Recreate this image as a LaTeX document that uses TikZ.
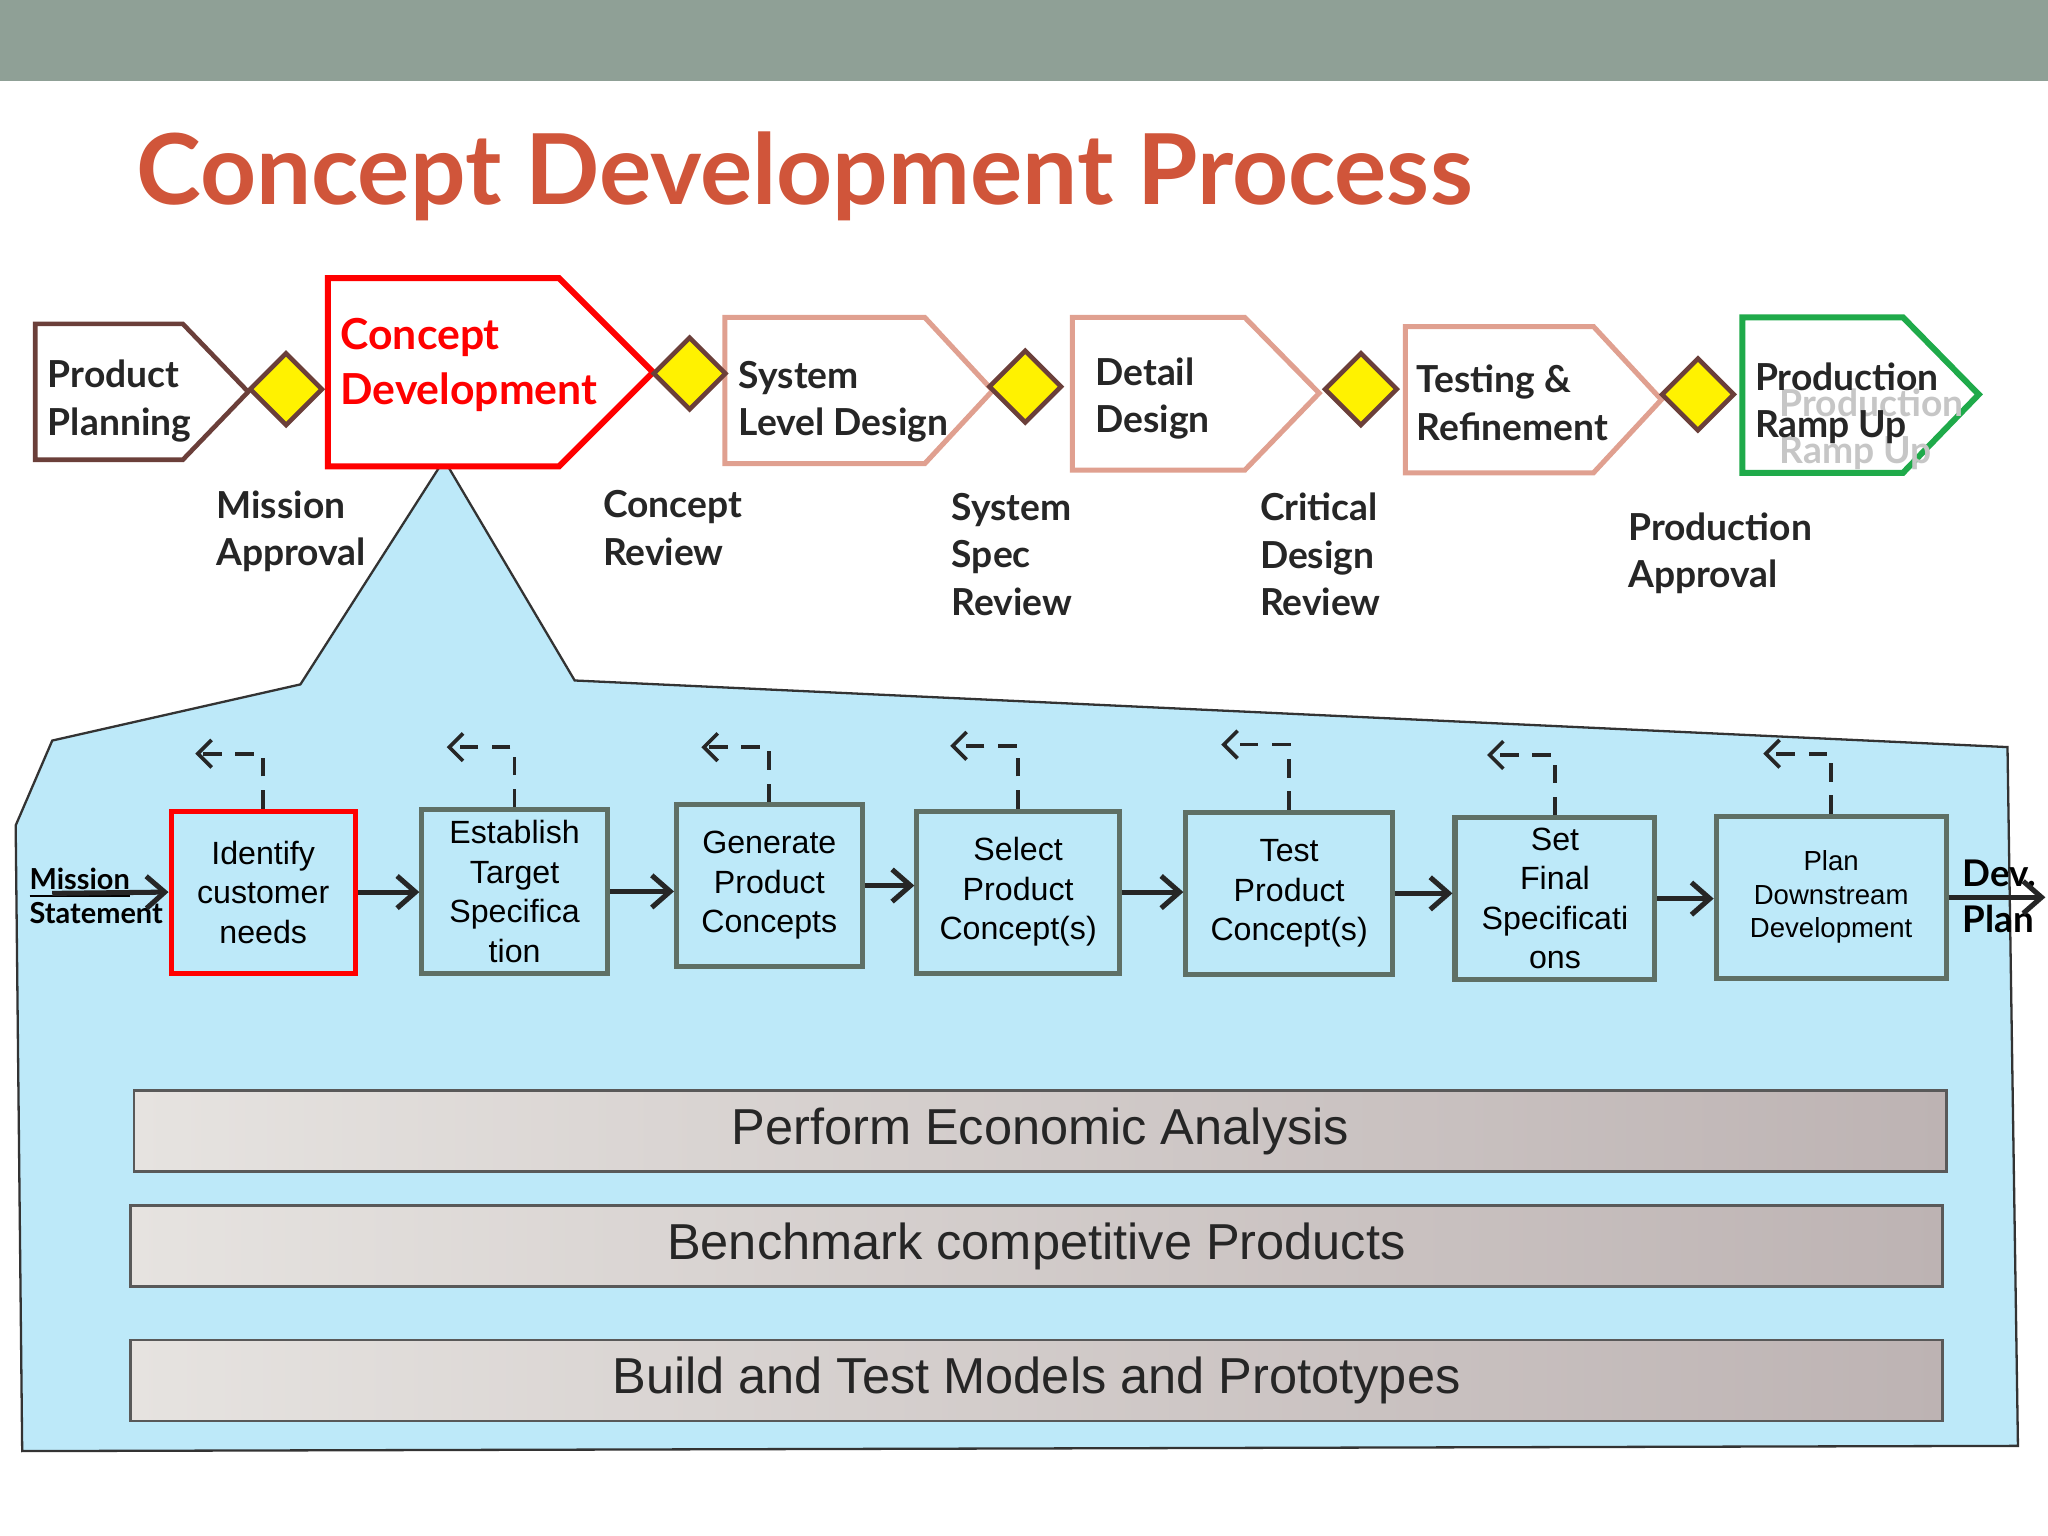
\documentclass[tikz,border=0pt]{standalone}
\usepackage{fontspec}
\setmainfont{Lato}
\newfontfamily\arial{Liberation Sans}
\usetikzlibrary{arrows.meta,shapes.geometric}
\definecolor{banner}{HTML}{8FA096}
\definecolor{titlec}{HTML}{D0553A}
\definecolor{brownc}{HTML}{6B3F3A}
\definecolor{pinkc}{HTML}{E0A090}
\definecolor{greenc}{HTML}{1FAA4A}
\definecolor{bluebg}{HTML}{BDE9F9}
\definecolor{boxc}{HTML}{5F7066}
\definecolor{barr}{HTML}{BDB3B3}
\definecolor{barl}{HTML}{E6E3E0}
\tikzset{
 lab/.style={font=\fontsize{8.1}{10.3}\selectfont\bfseries, text=black!85, align=left, anchor=north west, inner sep=0},
 dia/.style={diamond, fill=yellow, draw=brownc, line width=1pt, minimum width=16pt, minimum height=16pt, inner sep=0},
 stp/.style={draw=boxc, line width=1.1pt, fill=bluebg, align=center, font=\arial\fontsize{7}{8.6}\selectfont, inner sep=1pt},
 flow/.style={-{Straight Barb[length=4pt,width=7pt]}, line width=1.1pt, black!85},
 fb/.style={dashed, dash pattern=on 4pt off 3pt, line width=0.8pt, -{Straight Barb[length=3pt,width=6pt]}, black!85},
 bar/.style={draw=gray!70!black, line width=0.6pt, left color=barl, right color=barr, font=\arial\fontsize{11}{13}\selectfont, text=black!85},
}
\begin{document}
\begin{tikzpicture}[x=0.01cm,y=-0.01cm]
\useasboundingbox (0,0) rectangle (1568,1176);
\fill[white] (0,0) rectangle (1568,1176);
\fill[banner] (0,0) rectangle (1568,62);
\node[anchor=west, font=\fontsize{21.3}{24}\selectfont\bfseries, text=titlec] (title) at (92,135) {Concept Development Process};
% blue callout
\fill[bluebg] (12,632)--(40,567)--(230,524)--(340,352)--(440,521)--(1537,572)--(1545,1107)--(17,1111)--cycle;
\draw[black!80, line width=0.5pt] (12,632)--(40,567)--(230,524)--(340,352)--(440,521)--(1537,572)--(1545,1107)--(17,1111)--cycle;
% pentagons
\draw[brownc, line width=1pt, fill=white] (27,248)--(140,248)--(190,300)--(140,352)--(27,352)--cycle;
\node[lab] (pp) at (36,275) {Product\\Planning};
\draw[red, line width=1.3pt, fill=white] (251,213)--(428,213)--(500,285)--(428,357)--(251,357)--cycle;
\node[lab, text=red, font=\fontsize{9.3}{12}\selectfont\bfseries] (cd) at (260,243) {Concept\\Development};
\draw[pinkc, line width=1.1pt, fill=white] (555,243)--(708,243)--(760,299)--(708,355)--(555,355)--cycle;
\node[lab] (sld) at (565,276) {System\\Level Design};
\draw[pinkc, line width=1.1pt, fill=white] (821,243)--(953,243)--(1010,301)--(953,360)--(821,360)--cycle;
\node[lab] (dd) at (838,273) {Detail\\Design};
\draw[pinkc, line width=1.1pt, fill=white] (1076,250)--(1220,250)--(1272,306)--(1220,362)--(1076,362)--cycle;
\node[lab] (tr) at (1084,279) {Testing \&\\Refinement};
\draw[greenc, line width=1.3pt, fill=white] (1334,243)--(1457,243)--(1515,302)--(1457,362)--(1334,362)--cycle;
\node[lab, text=gray!45] (ghost) at (1362,297) {Production\\Ramp Up};
\node[lab] (pru) at (1343,277) {Production\\Ramp Up};
% diamonds
\node[dia] (d1) at (219,298) {};
\node[dia] (d2) at (528,286) {};
\node[dia] (d3) at (785,296) {};
\node[dia] (d4) at (1042,298) {};
\node[dia] (d5) at (1300,302) {};
% gate labels
\node[lab] (g1) at (165,375) {Mission\\Approval};
\node[lab] (g2) at (461,375) {Concept\\Review};
\node[lab] (g3) at (728,377) {System\\Spec\\Review};
\node[lab] (g4) at (964,377) {Critical\\Design\\Review};
\node[lab] (g5) at (1246,392) {Production\\Approval};
% steps
\node[stp, draw=red, minimum width=141*0.2845pt, minimum height=124*0.2845pt, text width=120*0.2845pt] (s1) at (201.5,683) {Identify\\customer\\needs};
\node[stp, minimum width=142*0.2845pt, minimum height=125*0.2845pt, text width=130*0.2845pt] (s2) at (394,682.5) {Establish\\Target\\Specifica\\tion};
\node[stp, minimum width=142*0.2845pt, minimum height=124*0.2845pt, text width=130*0.2845pt] (s3) at (589,678) {Generate\\Product\\Concepts};
\node[stp, minimum width=155*0.2845pt, minimum height=124*0.2845pt, text width=140*0.2845pt] (s4) at (779.5,683) {Select\\Product\\Concept(s)};
\node[stp, minimum width=158*0.2845pt, minimum height=124*0.2845pt, text width=140*0.2845pt] (s5) at (987,684) {Test\\Product\\Concept(s)};
\node[stp, minimum width=153*0.2845pt, minimum height=124*0.2845pt, text width=140*0.2845pt] (s6) at (1190.5,688) {Set\\Final\\Specificati\\ons};
\node[stp, font=\arial\fontsize{6}{7.3}\selectfont, minimum width=176*0.2845pt, minimum height=124*0.2845pt, text width=160*0.2845pt] (s7) at (1402,687) {Plan\\Downstream\\Development};
% left / right text
\node[anchor=west, inner sep=0, font=\fontsize{6.3}{7.5}\selectfont\bfseries, align=left] (ms) at (22,686) {\underline{Mission}\\Statement};
\coordinate (msa) at (40,684);
\node[anchor=west, inner sep=0, font=\fontsize{8}{10}\selectfont\bfseries, align=left] (dp) at (1502,686) {Dev.\\Plan};
\coordinate (dpe) at (1566,687);
\draw[flow] (msa) -- (s1.west);
\draw[flow] (s1.east) -- (s2.west|-s1.east);
\draw[flow] (s2.east) -- (s3.west|-s2.east);
\draw[flow] (s3.east) -- (s4.west|-s3.east);
\draw[flow] (s4.east) -- (s5.west|-s4.east);
\draw[flow] (s5.east) -- (s6.west|-s5.east);
\draw[flow] (s6.east) -- (s7.west|-s6.east);
\draw[flow] (s7.east) -- (dpe);
% feedback
\foreach \s/\dy in {s1/42,s2/46,s3/42,s4/48,s5/50,s6/46,s7/46}{
 \draw[fb] (\s.north) -- ++(0,-\dy) -- ++(-52,0);
}
% bars
\node[bar, minimum width=1387*0.2845pt, minimum height=62*0.2845pt] (b1) at (796.5,866) {Perform Economic Analysis};
\node[bar, minimum width=1387*0.2845pt, minimum height=62*0.2845pt] (b2) at (793.5,954) {Benchmark competitive Products};
\node[bar, minimum width=1387*0.2845pt, minimum height=62*0.2845pt] (b3) at (793.5,1057) {Build and Test Models and Prototypes};
\end{tikzpicture}
\end{document}
